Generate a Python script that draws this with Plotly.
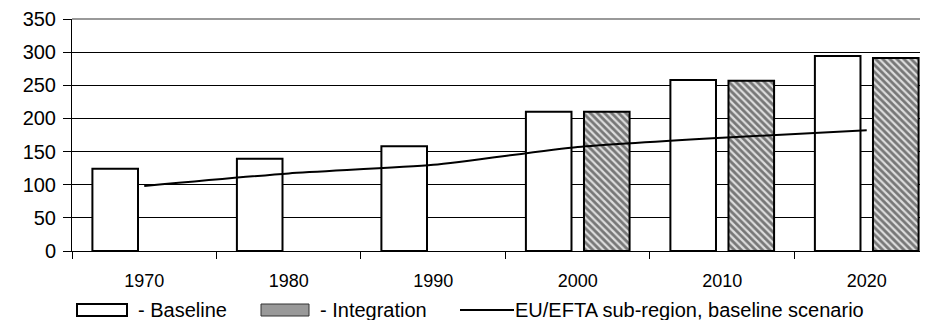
import plotly.graph_objects as go

years = ["1970", "1980", "1990", "2000", "2010", "2020"]
baseline = [124, 139, 158, 210, 258, 294]
integration = [None, None, None, 210, 257, 291]
eu_efta = [98, 117, 130, 157, 171, 182]

FONT = "Arial, Liberation Sans, sans-serif"

# the page body adds an 8px margin, so the figure is drawn 8px smaller
OFF = 8

fig = go.Figure()
fig.add_trace(go.Bar(x=years, y=baseline, name="- Baseline",
                     marker=dict(color="white", line=dict(color="black", width=2)),
                     showlegend=False))
fig.add_trace(go.Bar(x=years, y=integration, name="- Integration",
                     marker=dict(color="white", line=dict(color="black", width=2),
                                 pattern=dict(shape="\\", fgcolor="#111", bgcolor="#ddd",
                                              size=5, solidity=0.55, fillmode="overlay")),
                     showlegend=False))
fig.add_trace(go.Scatter(x=years, y=eu_efta, mode="lines",
                         name="EU/EFTA sub-region, baseline scenario",
                         line=dict(color="black", width=2, shape="spline", smoothing=0.6),
                         showlegend=False))

# top border of the plot area (grey)
fig.add_shape(type="line", xref="paper", yref="paper", x0=0, x1=1, y0=1, y1=1,
              line=dict(color="#999", width=2))

# hand-drawn legend below the axis (page pixel positions -> paper coords)
def px_x(p):
    return (p - 72) / 856.0

def px_y(p):
    return (251 - p) / 232.0

fig.add_shape(type="rect", xref="paper", yref="paper",
              x0=px_x(77), x1=px_x(127), y0=px_y(316), y1=px_y(304),
              fillcolor="white", line=dict(color="black", width=2))
fig.add_shape(type="rect", xref="paper", yref="paper",
              x0=px_x(261), x1=px_x(309), y0=px_y(316), y1=px_y(304),
              fillcolor="#999", line=dict(color="#333", width=1))
fig.add_shape(type="line", xref="paper", yref="paper",
              x0=px_x(460), x1=px_x(514), y0=px_y(310), y1=px_y(310),
              line=dict(color="black", width=2))
for xp, txt in [(136, "- Baseline"), (318, "- Integration"),
                (513, "EU/EFTA sub-region, baseline scenario")]:
    fig.add_annotation(x=px_x(xp), y=px_y(310), xref="paper", yref="paper",
                       text=txt, showarrow=False, xanchor="left", yanchor="middle",
                       font=dict(family=FONT, size=20, color="black"))

fig.update_layout(
    width=928 - OFF, height=320 - OFF,
    margin=dict(l=72 - OFF, r=0, t=19 - OFF, b=69),
    paper_bgcolor="white", plot_bgcolor="white",
    barmode="group", bargap=0.196, bargroupgap=0.215,
    font=dict(family=FONT, color="black"),
)
fig.update_xaxes(
    type="category", range=[-0.5, 5.424],
    showline=True, linecolor="black", linewidth=1,
    ticks="outside", tickson="boundaries", ticklen=7, tickcolor="black",
    tickfont=dict(size=18), ticklabelstandoff=13, showgrid=False,
)
fig.update_yaxes(
    range=[0, 350], dtick=50, tick0=0,
    showline=True, linecolor="black", linewidth=1,
    ticks="outside", ticklen=8, tickcolor="black",
    tickfont=dict(size=20), ticklabelstandoff=3,
    showgrid=True, gridcolor="black", gridwidth=1, zeroline=False,
)

fig.write_html("out.html")
